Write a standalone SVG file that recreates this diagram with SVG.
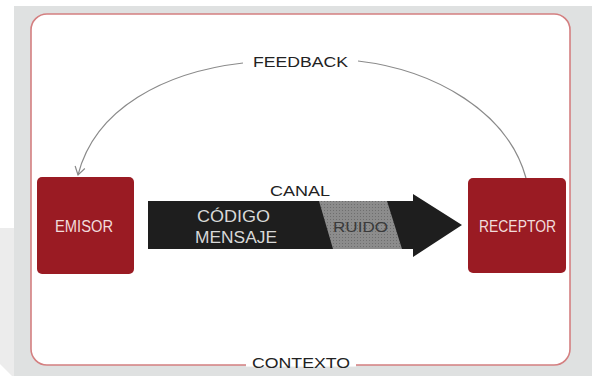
<svg xmlns="http://www.w3.org/2000/svg" width="592" height="376" viewBox="0 0 592 376">
<defs>
<style>
.lbl{font-family:"Liberation Sans",Arial,sans-serif;font-size:15px;fill:#222;text-anchor:middle}
.nodeTxt{font-family:"Liberation Sans",Arial,sans-serif;font-size:16px;fill:#f1dcdc;text-anchor:middle}
.node{fill:#9a1b23}
.fb{fill:none;stroke:#8a8a8a;stroke-width:1.2}
.inner{font-family:"Liberation Sans",Arial,sans-serif;font-size:16px;fill:#d8d8d8;text-anchor:middle}
</style>
<marker id="open" viewBox="0 0 12 12" refX="10" refY="6" markerWidth="12" markerHeight="12" markerUnits="userSpaceOnUse" orient="auto">
<polyline points="2,1 10,6 2,11" fill="none" stroke="#8a8a8a" stroke-width="1.2"/>
</marker>
<pattern id="dots" width="3" height="3" patternUnits="userSpaceOnUse">
<rect width="3" height="3" fill="#8c8c8c"/>
<rect x="0" y="0" width="1" height="1" fill="#6e6e6e"/>
</pattern>
</defs>
<rect width="592" height="376" fill="#ffffff"/>
<polygon points="0,228 14,228 14,376 12,376 0,364" fill="#ececec"/>
<rect x="14" y="6" width="578" height="370" fill="#dfe1e1"/>
<rect x="31" y="14" width="539" height="351" rx="16" ry="16" fill="#ffffff" stroke="#d47f80" stroke-width="1.6"/>
<rect x="246" y="363.6" width="110" height="3" fill="#ffffff"/>
<text class="lbl" x="301" y="368" textLength="98" lengthAdjust="spacingAndGlyphs">CONTEXTO</text>
<g id="connectors">
<path class="fb" d="M243,63 C165,72 95,108 78,175" marker-end="url(#open)"/>
<path class="fb" d="M358,61 C435,70 508,112 526,178"/>
<text class="lbl" x="300.5" y="67" textLength="95" lengthAdjust="spacingAndGlyphs">FEEDBACK</text>
</g>
<g id="canal">
<polygon points="148,201 413,201 413,194 462,225 413,257 413,249 148,249" fill="#1e1e1e"/>
<polygon points="319,201 387,201 402,249 333,249" fill="url(#dots)"/>
<text class="lbl" x="300" y="196" textLength="60" lengthAdjust="spacingAndGlyphs">CANAL</text>
<text class="inner" x="233.5" y="222" textLength="73" lengthAdjust="spacingAndGlyphs">CÓDIGO</text>
<text class="inner" x="236" y="243" textLength="82" lengthAdjust="spacingAndGlyphs">MENSAJE</text>
<text class="lbl" x="360.5" y="232" style="fill:#3a3a3a" textLength="55" lengthAdjust="spacingAndGlyphs">RUIDO</text>
</g>
<g id="emisor">
<rect class="node" x="37" y="177" width="97" height="97" rx="5"/>
<text class="nodeTxt" x="84" y="232" textLength="58" lengthAdjust="spacingAndGlyphs">EMISOR</text>
</g>
<g id="receptor">
<rect class="node" x="468" y="178" width="98" height="95" rx="5"/>
<text class="nodeTxt" x="517.5" y="232" textLength="77" lengthAdjust="spacingAndGlyphs">RECEPTOR</text>
</g>
</svg>
